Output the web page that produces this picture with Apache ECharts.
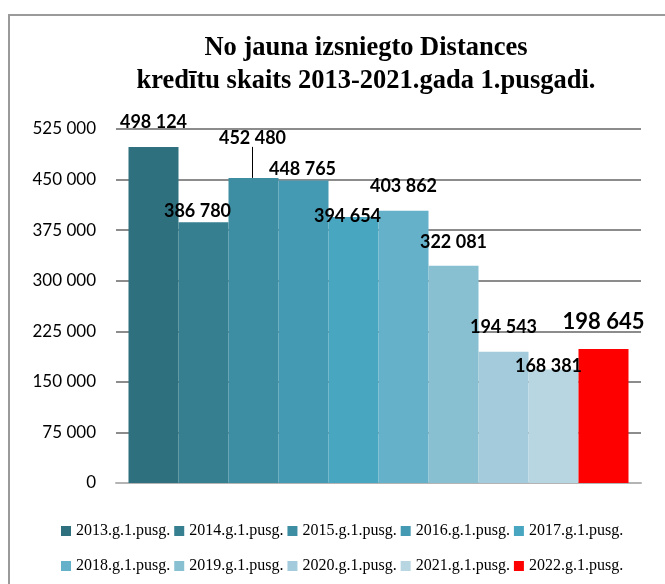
<!DOCTYPE html>
<html>
<head>
<meta charset="utf-8">
<script src="https://cdn.jsdelivr.net/npm/echarts@6/dist/echarts.min.js"></script>
<style>
html, body { margin: 0; padding: 0; background: #fff; }
#frame {
	position: absolute; left: 8px; top: 14px; width: 700px; height: 620px;
	border-top: 2px solid #9a9a9a; border-left: 2px solid #9a9a9a;
}
#chart { position: absolute; left: 0; top: 0; width: 665px; height: 584px; }
</style>
</head>
<body>
<div id="frame"></div>
<div id="chart"></div>
<script>
var seriesNames = ['2013.g.1.pusg.', '2014.g.1.pusg.', '2015.g.1.pusg.', '2016.g.1.pusg.', '2017.g.1.pusg.',
	'2018.g.1.pusg.', '2019.g.1.pusg.', '2020.g.1.pusg.', '2021.g.1.pusg.', '2022.g.1.pusg.'];
var values = [498124, 386780, 452480, 448765, 394654, 403862, 322081, 194543, 168381, 198645];
var yTicks = { min: 0, max: 525000, step: 75000 };

// colours and label nudges (excel-style hand placed labels)
var colors = ['#2f707f', '#357f90', '#3d8ea3', '#449ab2', '#49a6c0', '#65b1c9', '#88c0d2', '#a3cbdb', '#b7d6e1', '#ff0000'];
var labelShift = [[0, -16], [-6, -2], [-1, -31], [-1, -2], [-6, 8], [0, -15], [0, -15], [0, -16], [-5, 6], [0, -16]];

function fmt(v) {
	return String(v).replace(/\B(?=(\d{3})+(?!\d))/g, ' ');
}

var chartDom = document.getElementById('chart');
var myChart = echarts.init(chartDom);

var series = seriesNames.map(function (name, i) {
	var last = i === seriesNames.length - 1;
	return {
		name: name,
		type: 'bar',
		barWidth: 50,
		barGap: '0%',
		itemStyle: { color: colors[i] },
		data: [values[i]],
		label: {
			show: true,
			position: 'top',
			distance: 0,
			formatter: function (p) { return fmt(p.value); },
			fontFamily: 'Lato',
			fontWeight: 'bold',
			fontSize: last ? 22 : 18,
			color: '#000'
		},
		labelLayout: { dx: labelShift[i][0], dy: labelShift[i][1] },
		labelLine: {
			show: i === 2,
			length2: 0,
			lineStyle: { color: '#000', width: 1 }
		},
		emphasis: { disabled: true }
	};
});

var legendStyle = {
	left: 61,
	icon: 'rect',
	itemWidth: 10,
	itemHeight: 10,
	itemGap: 4,
	padding: 0,
	selectedMode: false,
	textStyle: { fontFamily: 'Liberation Serif', fontSize: 16, color: '#000' }
};

var option = {
	animation: false,
	title: {
		text: 'No jauna izsniegto Distances\nkredītu skaits 2013-2021.gada 1.pusgadi.',
		left: 361,
		textAlign: 'center',
		top: 27,
		textStyle: {
			fontFamily: 'Liberation Serif',
			fontWeight: 'bold',
			fontSize: 26.5,
			lineHeight: 33,
			color: '#000'
		}
	},
	legend: [
		Object.assign({ data: seriesNames.slice(0, 5), top: 523 }, legendStyle),
		Object.assign({ data: seriesNames.slice(5), top: 558 }, legendStyle)
	],
	grid: { left: 116, right: 24, top: 129, bottom: 101 },
	xAxis: {
		type: 'category',
		data: [''],
		axisTick: { show: false },
		axisLabel: { show: false },
		axisLine: { show: true, lineStyle: { color: '#b4b4b4', width: 2 } }
	},
	yAxis: {
		type: 'value',
		min: yTicks.min,
		max: yTicks.max,
		interval: yTicks.step,
		axisLine: { show: false },
		axisTick: { show: false },
		axisLabel: {
			margin: 20,
			fontFamily: 'Lato',
			fontSize: 17,
			color: '#000',
			formatter: function (v) { return fmt(v); }
		},
		splitLine: { showMinLine: false, lineStyle: { color: '#8c8c8c', width: 2 } }
	},
	series: series
};

option && myChart.setOption(option);
</script>
</body>
</html>
